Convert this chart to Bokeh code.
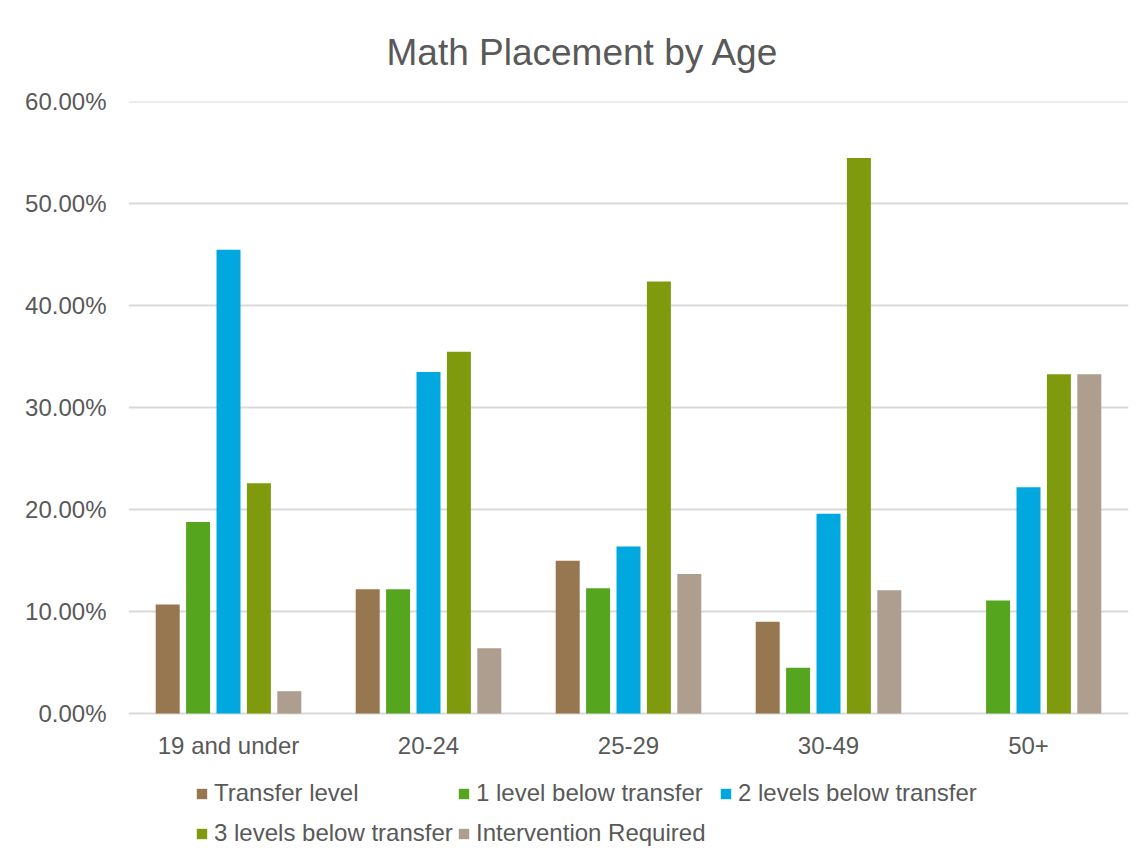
from bokeh.plotting import figure
from bokeh.models import (ColumnDataSource, FactorRange, Range1d, FixedTicker,
                          NumeralTickFormatter, Legend, LegendItem)
from bokeh.core.properties import value
from bokeh.transform import dodge
from bokeh.embed import file_html
from bokeh.resources import INLINE

ages = ["19 and under", "20-24", "25-29", "30-49", "50+"]
transfer_level = [0.107, 0.122, 0.150, 0.090, 0.0]
one_below = [0.188, 0.122, 0.123, 0.045, 0.111]
two_below = [0.455, 0.335, 0.164, 0.196, 0.222]
three_below = [0.226, 0.355, 0.424, 0.545, 0.333]
intervention = [0.022, 0.064, 0.137, 0.121, 0.333]
series_names = ["Transfer level", "1 level below transfer", "2 levels below transfer",
                "3 levels below transfer", "Intervention Required"]
series_values = [transfer_level, one_below, two_below, three_below, intervention]
colors = ["#967750", "#55A51E", "#00A8DF", "#7F9A0D", "#AE9E8F"]
y_ticks = [0.0, 0.1, 0.2, 0.3, 0.4, 0.5, 0.6]

FONT = "Liberation Sans"
TXT = "#595959"
GRID = "#d9d9d9"

W, H = 1132, 847
PLOT_TOP, PLOT_BOTTOM, PLOT_LEFT, PLOT_RIGHT = 101, 713, 128, 1128
px_per_unit = (PLOT_BOTTOM - PLOT_TOP) / 0.6
y_start = -(H - PLOT_BOTTOM) / px_per_unit   # room below the axis for labels and legend
y_end = 0.6 + 0.5 / px_per_unit

data = {"age": ages}
keys = ["s0", "s1", "s2", "s3", "s4"]
for k, v in zip(keys, series_values):
    data[k] = v
source = ColumnDataSource(data)

p = figure(x_range=FactorRange(factors=ages, range_padding=0), y_range=Range1d(y_start, y_end),
           width=W, height=H, output_backend="svg", toolbar_location=None,
           min_border_left=PLOT_LEFT, min_border_right=W - PLOT_RIGHT,
           min_border_top=PLOT_TOP, min_border_bottom=0)

offsets = [-0.304, -0.152, 0.0, 0.152, 0.304]
renderers = []
for k, off, c in zip(keys, offsets, colors):
    r = p.vbar(x=dodge("age", off, range=p.x_range), top=k, bottom=0, width=0.12, source=source,
               fill_color=c, line_color=None)
    renderers.append(r)

# category labels under the zero line
p.text(x="age", y=0, text="age", source=source, text_align="center", text_baseline="middle",
       y_offset=32, text_font=value(FONT), text_font_size=value("24px"), text_color=TXT)

p.title.text = "Math Placement by Age"
p.title.text_font = FONT
p.title.text_font_size = "37px"
p.title.text_font_style = "normal"
p.title.text_color = TXT
p.title.align = "left"
p.title.offset = 258
p.title.vertical_align = "top"
p.title.standoff = 54

p.outline_line_color = None
p.xgrid.grid_line_color = None
p.ygrid.ticker = FixedTicker(ticks=y_ticks)
p.ygrid.grid_line_color = GRID
p.ygrid.grid_line_width = 2

p.xaxis.visible = False

p.yaxis.ticker = FixedTicker(ticks=y_ticks)
p.yaxis.formatter = NumeralTickFormatter(format="0.00%")
p.yaxis.axis_line_color = None
p.yaxis.major_tick_line_color = None
p.yaxis.minor_tick_line_color = None
p.yaxis.major_label_standoff = 16
p.yaxis.major_label_text_font = FONT
p.yaxis.major_label_text_font_size = "24px"
p.yaxis.major_label_text_color = TXT


def make_legend(idx, loc):
    lg = Legend(items=[LegendItem(label=series_names[i], renderers=[renderers[i]]) for i in idx],
                orientation="horizontal", location=loc)
    lg.border_line_color = None
    lg.background_fill_alpha = 0
    lg.padding = 0
    lg.margin = 0
    lg.spacing = 3
    lg.glyph_width = 13
    lg.glyph_height = 13
    lg.label_standoff = 6
    lg.label_width = 240
    lg.label_height = 28
    lg.label_text_font = FONT
    lg.label_text_font_size = "24px"
    lg.label_text_color = TXT
    return lg

p.add_layout(make_legend([0, 1, 2], (67, 40)))
p.add_layout(make_legend([3, 4], (67, 0)))

open("out.html", "w").write(file_html(p, INLINE))
